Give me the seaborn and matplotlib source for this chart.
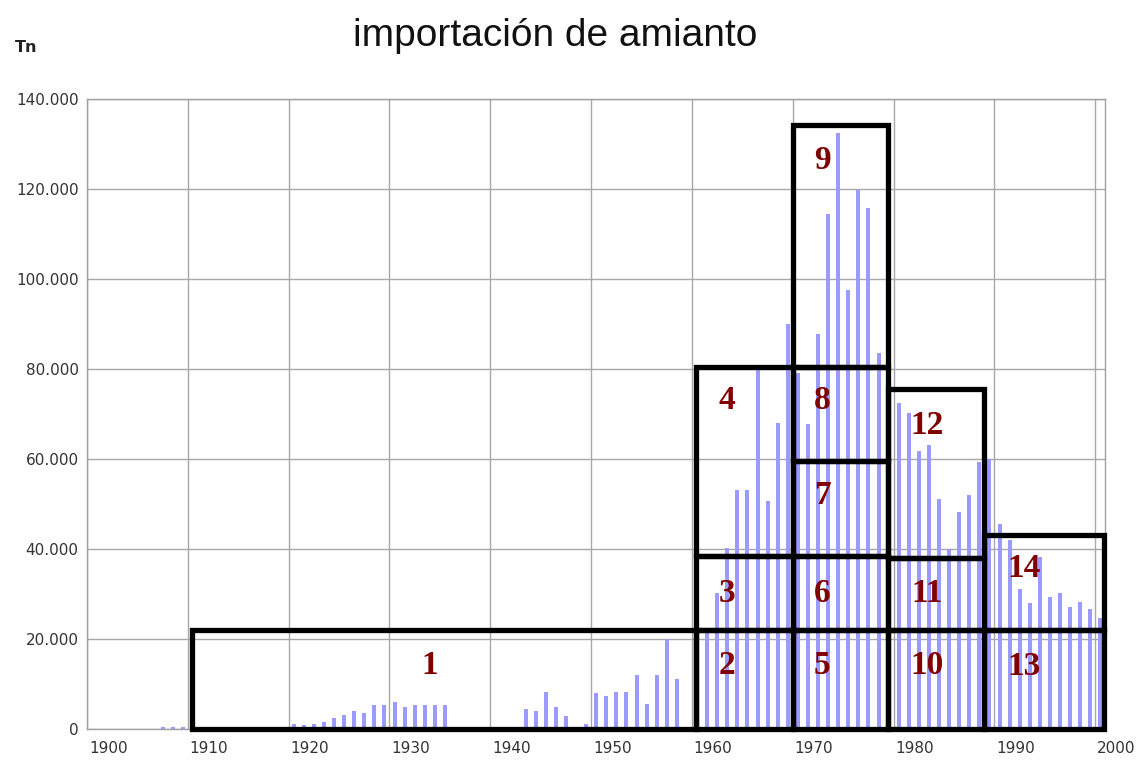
import numpy as np
import pandas as pd
import matplotlib
matplotlib.use("Agg")
import matplotlib.pyplot as plt
from matplotlib.patches import Rectangle
from matplotlib.ticker import FuncFormatter, FixedLocator
import seaborn as sns

# toneladas importadas por año
years = list(range(1900, 2001))
tons = ([0] * 7 + [400, 400, 400] +            # 1900-1909
        [0] * 10 +                              # 1910-1919
        [1000, 800, 1200, 1500, 2400, 3100, 3900, 3600, 5300, 5300] +   # 1920s
        [5900, 4800, 5300, 5300, 5300, 5300, 0, 0, 0, 0] +             # 1930s
        [0, 0, 0, 4400, 4000, 8300, 4800, 2900, 0, 1000] +             # 1940s
        [7900, 7400, 8200, 8200, 12000, 5500, 12000, 20000, 11100, 0] + # 1950s
        [14600, 21300, 30200, 40200, 53200, 53200, 79900, 50600, 68000, 89900] +  # 1960s
        [79000, 67800, 87800, 114400, 132400, 97500, 119700, 115700, 83600, 78000] +  # 1970s
        [72500, 70300, 61700, 63100, 51000, 40100, 48200, 52100, 59300, 60100] +  # 1980s
        [45600, 42100, 31200, 28100, 38200, 29300, 30200, 27000, 28200, 26600] +  # 1990s
        [24600])                                # 2000

# recuadros numerados: (año inicio, año fin, tn abajo, tn arriba)
box_x0 = [1910.4, 1960.35, 1960.35, 1960.35, 1970.0, 1970.0, 1970.0, 1970.0, 1970.0,
          1979.4, 1979.4, 1979.4, 1989.0, 1989.0]
box_x1 = [1960.35, 1970.0, 1970.0, 1970.0, 1979.4, 1979.4, 1979.4, 1979.4, 1979.4,
          1989.0, 1989.0, 1989.0, 2000.9, 2000.9]
box_y0 = [0, 0, 22000, 38400, 0, 22000, 38400, 59500, 80500,
          0, 22000, 38000, 0, 22000]
box_y1 = [22000, 22000, 38400, 80500, 22000, 38400, 59500, 80500, 134200,
          22000, 38000, 75500, 22000, 43200]
lab_x = [1934.0, 1963.5, 1963.5, 1963.5, 1972.9, 1972.9, 1972.9, 1972.9, 1972.9,
         1983.3, 1983.3, 1983.3, 1992.9, 1992.9]
lab_y = [14200, 14200, 30200, 72900, 14200, 30200, 51800, 72900, 126400,
         14200, 30200, 67400, 13800, 35600]

df = pd.DataFrame({"pos": np.array(years) + 0.5, "tn": tons})

sns.set_style("white")
plt.rcParams["font.family"] = ["DejaVu Sans"]

fig = plt.figure(figsize=(11.43, 7.6), dpi=100)
ax = fig.add_axes([0.0761, 0.0408, 0.891, 0.829])

sns.barplot(data=df, x="pos", y="tn", native_scale=True, width=0.4,
            color="#9a9aff", saturation=1, edgecolor="none", ax=ax, zorder=2)

ax.set_xlim(1900, 2001)
ax.set_ylim(0, 140000)

# rejilla en las décadas, etiquetas algo desplazadas como en el original
decades = list(range(1900, 2001, 10))
ax.xaxis.set_major_locator(FixedLocator(decades))
ax.set_xticklabels([])
ax.tick_params(axis="x", which="major", length=4, color="#999999", direction="out")
for d in decades:
    ax.text(d + 2.1, -0.019, str(d), transform=ax.get_xaxis_transform(),
            ha="center", va="top", fontsize=11, color="#333333")
ax.set_yticks(range(0, 140001, 20000))
ax.yaxis.set_major_formatter(FuncFormatter(lambda v, p: f"{v:,.0f}".replace(",", ".")))
ax.tick_params(axis="y", length=4, color="#999999", labelsize=11, labelcolor="#333333", pad=2)
ax.grid(True, which="major", color="#a8a8a8", lw=1)
ax.set_axisbelow(True)
for s in ax.spines.values():
    s.set_color("#a0a0a0")
    s.set_linewidth(1)
ax.set_xlabel("")
ax.set_ylabel("")

for i in range(len(box_x0)):
    ax.add_patch(Rectangle((box_x0[i], box_y0[i]), box_x1[i] - box_x0[i], box_y1[i] - box_y0[i],
                           fill=False, edgecolor="black", lw=3.8, zorder=4, clip_on=False))
    ax.text(lab_x[i], lab_y[i], str(i + 1), ha="center", va="center", color="#800000",
            fontsize=24, fontweight="bold", family="Liberation Serif", zorder=5)

fig.text(0.486, 0.953, "importación de amianto", ha="center", va="center",
         fontsize=28, color="#111111", family="Liberation Sans")
fig.text(0.023, 0.938, "Tn", ha="center", va="center", fontsize=11.5,
         fontweight="bold", color="#222222")

fig.savefig("out.png", dpi=100)
